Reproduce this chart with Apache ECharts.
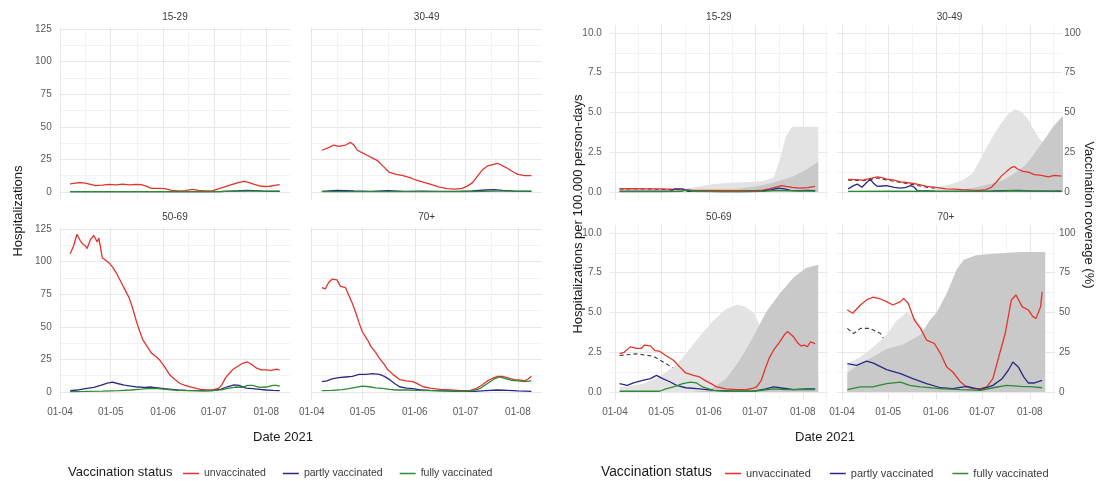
<!DOCTYPE html>
<html>
<head>
<meta charset="utf-8">
<script src="https://cdn.jsdelivr.net/npm/echarts@6/dist/echarts.min.js"></script>
<style>
  html, body { margin: 0; padding: 0; background: #ffffff; }
  #chart { width: 1099px; height: 481px; }
</style>
</head>
<body>
<div id="chart"></div>
<script>
// x values are days since 1 April 2021
const MONTH_TICKS = [0, 30, 61, 91, 122];
const MONTH_LABELS = ['01-04', '01-05', '01-06', '01-07', '01-08'];
const X_GRID = [0, 15, 30, 45.5, 61, 76, 91, 106.5, 122, 137.5];   // month starts and mid-months

const COUNT_LABELS = [0, 25, 50, 75, 100, 125];
const COUNT_GRID = [0, 12.5, 25, 37.5, 50, 62.5, 75, 87.5, 100, 112.5, 125];
const RATE_LABELS = [0, 2.5, 5, 7.5, 10];
const RATE_GRID = [0, 1.25, 2.5, 3.75, 5, 6.25, 7.5, 8.75, 10];
const COVERAGE_LABELS = [0, 25, 50, 75, 100];

const AGE_GROUPS = ['15-29', '30-49', '50-69', '70+'];
const STATUS = ['unvaccinated', 'partly vaccinated', 'fully vaccinated'];

// ---- Hospitalizations (counts) ----
const hosp1529Unvacc = [[6,6.2],[9,6.8],[12,7.2],[15,6.8],[18,5.8],[21,4.8],[25,5.2],[29,5.8],[33,5.5],[37,6],[41,5.5],[45,5.8],[48,5.6],[51,4.5],[54,2.8],[58,2.7],[62,2.5],[66,1.2],[70,0.8],[74,1],[78,2],[82,1.2],[86,0.8],[90,0.8],[94,2.5],[97,3.8],[100,5],[103,6.2],[106,7.4],[109,8.2],[112,7.2],[115,5.8],[118,4.6],[121,4.2],[124,4.4],[127,5],[130,5.6]];
const hosp1529Partly = [[6,0.3],[20,0.3],[40,0.3],[60,0.2],[80,0.2],[95,0.3],[100,0.6],[105,0.9],[110,1.2],[115,1],[120,0.6],[125,0.4],[130,0.4]];
const hosp1529Fully = [[6,0.2],[30,0.3],[60,0.3],[90,0.2],[100,0.4],[110,0.6],[120,0.6],[130,0.7]];

const hosp3049Unvacc = [[6,32],[10,34],[13,36],[16,35],[20,36],[23,38],[25,36],[27,32],[30,30],[33,28],[36,26],[39,24],[42,20],[46,15],[50,13.5],[54,12.5],[58,11],[62,9],[66,7.5],[70,6],[75,4],[80,2.5],[85,2.2],[89,2.8],[92,4.5],[95,7],[98,12],[101,17],[104,20],[107,21],[110,22],[113,20],[116,18],[119,15.5],[122,13.5],[126,12.5],[130,12.5]];
const hosp3049Partly = [[6,0.5],[15,1.2],[25,0.8],[35,0.5],[45,1.0],[55,0.5],[65,0.6],[75,0.5],[85,0.4],[95,0.8],[103,1.5],[108,1.8],[113,1.2],[120,0.7],[130,0.5]];
const hosp3049Fully = [[6,0.2],[30,0.3],[60,0.3],[90,0.3],[110,0.6],[130,0.6]];

const hosp5069Unvacc = [[6,106],[8,112],[10,121],[12,116],[13,114],[15,112],[16,110],[18,117],[20,120],[22,115],[23,118],[25,103],[27,101],[29,99],[31,96],[33,92],[35,87],[37,82],[39,77],[41,72],[43,64],[45,55],[47,47],[49,40],[52,34],[54,30],[56,28],[59,24.5],[62,19],[65,13],[68,9.5],[71,6.5],[74,5],[77,4],[80,3],[83,2],[87,1.5],[90,1.5],[94,3],[96,6],[98,11],[100,14],[102,17],[105,19.5],[108,22],[111,23],[113,21.5],[116,18.5],[119,17],[122,17],[125,16.5],[128,17.5],[130,17]];
const hosp5069Partly = [[6,1],[10,1.5],[15,2.5],[20,3.5],[24,5],[28,6.8],[31,7.5],[34,6.5],[38,5.2],[42,4.5],[46,3.8],[50,3.5],[54,3.8],[58,3.2],[62,2.5],[66,2],[70,1.5],[75,1.2],[80,1],[85,0.8],[90,1],[95,2],[99,4],[103,5.5],[106,5],[110,3],[114,2.5],[118,2],[122,1.5],[126,1.2],[130,1]];
const hosp5069Fully = [[6,0.3],[15,0.4],[25,0.6],[35,1],[42,1.5],[48,2.2],[53,2.8],[58,2.5],[64,1.8],[70,1.2],[76,1],[84,1],[90,1],[96,1.8],[100,3],[104,3.8],[108,3.5],[111,5],[114,5],[118,3.5],[122,3.8],[126,5],[128,5],[130,4.5]];

const hosp70Unvacc = [[6,80],[8,79],[10,84],[12,86.5],[15,86],[17,81],[20,80],[22,74],[24,68],[26,61],[28,53],[30,46],[33,40],[35,35],[38,30],[40,26],[43,21],[45,17],[48,13.5],[52,9.5],[56,8.5],[60,8],[63,6],[66,4],[70,3],[76,2],[82,1.5],[88,1],[94,1.2],[97,2.5],[101,5.5],[104,8.5],[107,10.5],[110,12],[113,12],[117,10.5],[120,9.5],[123,9.2],[126,8.5],[128,10],[130,12]];
const hosp70Partly = [[6,8],[9,8.5],[12,10],[16,11],[20,11.5],[24,12],[28,13.5],[32,13.5],[36,14],[40,13.5],[43,12],[46,9.5],[49,6.5],[52,4],[56,3],[60,2.5],[65,1.5],[70,1.2],[78,0.8],[88,0.5],[96,0.5],[103,1],[110,1.5],[116,1.2],[122,0.8],[130,0.5]];
const hosp70Fully = [[6,1],[12,1.2],[18,1.8],[22,2.5],[26,3.5],[30,4.5],[34,4],[38,3.2],[42,2.8],[46,2],[50,1.5],[56,1.5],[62,1.2],[70,1],[80,0.8],[90,0.5],[96,1],[100,3],[104,6.5],[108,10],[111,11.5],[114,10.5],[118,9],[122,8.5],[126,8],[130,8.5]];

// ---- Hospitalizations per 100.000 person-days, and vaccination coverage (%) ----
const rate1529Unvacc = [[3,0.2],[10,0.22],[20,0.2],[29,0.2],[36,0.18],[42,0.15],[50,0.12],[60,0.1],[70,0.1],[80,0.08],[90,0.08],[96,0.12],[100,0.2],[104,0.3],[108,0.4],[111,0.35],[115,0.3],[120,0.25],[125,0.28],[130,0.35]];
const rate1529Partly = [[3,0.05],[20,0.05],[36,0.05],[39,0.2],[44,0.2],[47,0.05],[60,0.04],[80,0.03],[95,0.05],[102,0.15],[106,0.25],[110,0.2],[114,0.1],[120,0.08],[125,0.1],[130,0.08]];
const rate1529Fully = [[3,0.03],[30,0.03],[44,0.05],[47,0.15],[50,0.05],[70,0.03],[95,0.04],[105,0.1],[115,0.08],[130,0.06]];
const rate1529Overall = [[3,0.2],[20,0.19],[40,0.15],[60,0.1],[80,0.07],[95,0.08],[105,0.2],[110,0.25],[120,0.18],[130,0.2]];
const cov1529Partly = [[3,0],[30,0],[36,0.5],[45,2],[55,3.5],[64,5],[77,6],[90,6.5],[96,7],[103,9],[107,20],[111,35],[115,41],[132,41]];
const cov1529Fully = [[3,0],[50,0],[68,1],[80,2],[94,4],[103,6],[110,8],[116,10],[124,14],[132,19]];

const rate3049Unvacc = [[4,0.8],[9,0.78],[14,0.75],[18,0.85],[23,0.96],[26,0.9],[29,0.81],[34,0.75],[38,0.64],[42,0.6],[47,0.53],[51,0.45],[55,0.36],[61,0.3],[67.5,0.2],[73,0.18],[78,0.15],[84,0.12],[89,0.1],[93.5,0.15],[97,0.3],[100,0.6],[103.5,1.0],[107,1.3],[110,1.55],[112,1.6],[114,1.45],[117.5,1.3],[121,1.25],[125,1.1],[129.5,1.05],[134,0.95],[138,1.05],[142.6,1.0]];
const rate3049Partly = [[4,0.2],[7.5,0.4],[10,0.5],[13,0.3],[16,0.6],[18.5,0.8],[20.5,0.55],[23,0.35],[26,0.38],[29,0.4],[34,0.3],[38,0.25],[41.5,0.3],[44.5,0.4],[47,0.3],[49,0.08],[60,0.05],[76,0.04],[92.5,0.04],[103.5,0.08],[114.5,0.1],[125,0.06],[142.6,0.05]];
const rate3049Fully = [[4,0.04],[33,0.05],[65,0.04],[98,0.04],[109,0.08],[125,0.06],[142.6,0.06]];
const rate3049Overall = [[4,0.75],[14,0.72],[23,0.88],[29,0.76],[38,0.6],[47,0.45],[55,0.3],[67.5,0.17],[78,0.12],[89,0.08],[96,0.15],[100,0.3],[104.5,0.45],[109,0.55],[113,0.55],[120,0.5],[128.5,0.48],[135,0.45],[142.6,0.42]];
const cov3049Partly = [[4,0],[54.5,0],[57.5,1],[62,3],[71,5],[78.5,7.5],[85,12],[89.5,20],[93.5,27],[98,35],[102.5,42],[107,48],[112,52],[115.5,51],[120,47],[124,40],[128.5,33],[135,27],[143.6,24]];
const cov3049Fully = [[4,0],[65,0],[76,1],[87,3],[96,5],[103.5,7],[109,10],[115.5,14],[120,18],[124,23],[128.5,29],[133,35],[137,41],[143.6,48]];

const rate5069Unvacc = [[3,2.42],[6,2.5],[10,2.84],[14,2.74],[17,2.74],[19,2.95],[23,2.9],[26,2.6],[29,2.57],[33,2.3],[38,2.0],[42,1.58],[46,1.2],[51,1.05],[55,0.95],[59,0.7],[63,0.5],[66,0.32],[72,0.2],[79,0.15],[85,0.15],[90,0.25],[92,0.32],[95,0.74],[98,1.58],[100,2.1],[103,2.63],[107,3.16],[110,3.6],[112,3.8],[116,3.47],[119,3.05],[121,2.9],[123,2.95],[125,2.85],[127,3.16],[130,3.05]];
const rate5069Partly = [[3,0.53],[8,0.42],[12,0.57],[18,0.74],[23,0.84],[27,1.05],[31,0.84],[36,0.63],[40,0.42],[46,0.27],[55,0.2],[64,0.1],[77,0.06],[90,0.06],[98,0.2],[103,0.32],[107,0.27],[116,0.15],[124,0.2],[130,0.19]];
const rate5069Fully = [[3,0.05],[29,0.05],[33,0.2],[38,0.32],[44,0.53],[49,0.63],[53,0.57],[57,0.32],[64,0.1],[72,0.05],[90,0.05],[103,0.2],[111,0.15],[124,0.17],[130,0.15]];
const rate5069Overall = [[3,2.3],[14,2.4],[25,2.25],[33,1.8],[42,1.26],[51,0.74],[59,0.32],[68,0.17],[83,0.1],[94,0.15],[103,0.53],[111,0.57],[120,0.48],[130,0.46]];
const cov5069Partly = [[3,3],[18,5],[29,10],[40,17],[46,24],[55,35],[64,45],[72,52],[79,55],[84,54],[90,50],[94,42],[98,35],[107,25],[116,16],[132,10]];
const cov5069Fully = [[3,0],[50,0],[60,1],[64,3],[72,8],[81,20],[90,35],[98,50],[107,62],[116,72],[124,78],[132,80]];

const rate70Unvacc = [[3.5,5.16],[7,4.95],[12,5.47],[16,5.79],[20,5.96],[25,5.85],[29,5.68],[33,5.47],[38,5.68],[40,5.89],[43,5.58],[47,4.53],[51,4.0],[55,3.26],[60,3.05],[64,2.42],[68,1.58],[72,1.26],[77,0.63],[81,0.32],[85,0.21],[90,0.21],[94,0.32],[98,0.84],[103,2.63],[106,3.68],[110,5.79],[113,6.1],[117,5.37],[121,5.16],[124,4.74],[126,4.63],[129,5.37],[130,6.3]];
const rate70Partly = [[3.5,1.79],[9.5,1.68],[16,1.94],[20,1.83],[29,1.41],[38,1.16],[46,0.84],[55,0.53],[64,0.27],[72,0.21],[81,0.36],[90,0.15],[98,0.42],[104,0.84],[108,1.37],[111,1.89],[114.5,1.58],[118,0.95],[121,0.57],[125,0.57],[130,0.74]];
const rate70Fully = [[3.5,0.15],[12,0.32],[20,0.32],[29,0.53],[38,0.63],[44,0.42],[51,0.32],[64,0.21],[77,0.15],[90,0.1],[98,0.27],[107,0.42],[116,0.36],[124,0.32],[130,0.27]];
const rate70Overall = [[3.5,4.0],[7.5,3.68],[12,4.0],[18,4.0],[25,3.68],[29,3.05],[38,2.21],[46,1.58],[55,0.84],[64,0.42],[72,0.21],[81,0.15],[90,0.15],[98,0.42],[107,0.74],[116,0.74],[124,0.53],[130,0.57]];
const cov70Partly = [[3.5,18],[12,22],[20,28],[29,36],[35.5,45],[42,50],[46,48],[51,42],[57,35],[62,28],[70,18],[80,9],[90,5],[110,3],[132,2]];
const cov70Fully = [[3.5,12],[12,18],[20,22],[29,27],[40,30],[51,36],[57,45],[61.5,50],[68,62],[74.5,77],[79,83],[87,86],[98,87],[116,88],[132,88]];

const COLORS = {
  unvacc: '#e3332c', partly: '#2a2a86', fully: '#2c8a33', overall: '#3c3c3c',
  partlyCov: '#e3e3e3', fullyCov: '#c9c9c9'
};
const FONT = '"Liberation Sans", Arial, Helvetica, sans-serif';
const GRID_MAJOR = '#e7e7e7', GRID_MINOR = '#f3f3f3';
const PX_PER_DAY_R = 1.54;

// Panel geometry for the counts figure (L) and the rates figure (R)
const FIGS = {
  L: { lefts: [59.7, 311.4], tops: [27.7, 227.7], height: 172.1,
       yMin: -6, yMax: 126,
       x: [[-0.2, 136.2, 230.5], [-0.2, 136.2, 230.5]] },
  R: { lefts: [609.8, 836.8], tops: [25, 225], height: 175,
       yMin: -0.5, yMax: 10.5 }
};

const panels = [
  { fig: 'L', col: 0, row: 0, lines: [hosp1529Unvacc, hosp1529Partly, hosp1529Fully] },
  { fig: 'L', col: 1, row: 0, lines: [hosp3049Unvacc, hosp3049Partly, hosp3049Fully] },
  { fig: 'L', col: 0, row: 1, lines: [hosp5069Unvacc, hosp5069Partly, hosp5069Fully] },
  { fig: 'L', col: 1, row: 1, lines: [hosp70Unvacc, hosp70Partly, hosp70Fully] },
  { fig: 'R', col: 0, row: 0, xMax: 138.3, covMargin: 4, lines: [rate1529Unvacc, rate1529Partly, rate1529Fully], overall: rate1529Overall, cov: [cov1529Partly, cov1529Fully] },
  { fig: 'R', col: 1, row: 0, xMax: 143, covMargin: 2, lines: [rate3049Unvacc, rate3049Partly, rate3049Fully], overall: rate3049Overall, cov: [cov3049Partly, cov3049Fully] },
  { fig: 'R', col: 0, row: 1, xMax: 138.3, covMargin: 4, lines: [rate5069Unvacc, rate5069Partly, rate5069Fully], overall: rate5069Overall, cov: [cov5069Partly, cov5069Fully] },
  { fig: 'R', col: 1, row: 1, xMax: 138.3, covMargin: 4, lines: [rate70Unvacc, rate70Partly, rate70Fully], overall: rate70Overall, cov: [cov70Partly, cov70Fully] }
];
const panelAge = [0, 1, 2, 3, 0, 1, 2, 3];

const grids = [], xAxes = [], yAxes = [], series = [], graphics = [];
const secondaryIndex = {};

panels.forEach((p, i) => {
  const f = FIGS[p.fig];
  const left = f.lefts[p.col], top = f.tops[p.row];
  let xMin, xMax, width;
  if (p.fig === 'L') {
    [xMin, xMax, width] = f.x[p.col];
  } else {
    xMin = -3.35; xMax = p.xMax; width = (xMax - xMin) * PX_PER_DAY_R;
  }
  grids.push({ left, top, width, height: f.height, containLabel: false, outerBoundsMode: 'none' });

  xAxes.push({
    type: 'value', gridIndex: i, min: xMin, max: xMax,
    axisLine: { show: false },
    axisTick: { show: false, customValues: X_GRID },
    splitLine: { show: true, lineStyle: { color: [GRID_MAJOR, GRID_MINOR], width: 1 } },
    axisLabel: {
      show: p.row === 1, customValues: MONTH_TICKS, margin: 7,
      color: '#5a5a5a', fontSize: 10, fontFamily: FONT,
      formatter: v => MONTH_LABELS[MONTH_TICKS.indexOf(v)]
    }
  });

  const isRate = p.fig === 'R';
  yAxes.push({
    type: 'value', gridIndex: i, min: f.yMin, max: f.yMax,
    axisLine: { show: false },
    axisTick: { show: false, customValues: isRate ? RATE_GRID : COUNT_GRID },
    splitLine: { show: true, lineStyle: { color: [GRID_MAJOR, GRID_MINOR], width: 1 } },
    axisLabel: {
      show: p.col === 0, customValues: isRate ? RATE_LABELS : COUNT_LABELS, margin: 8,
      color: '#5a5a5a', fontSize: 10, fontFamily: FONT,
      formatter: v => isRate ? v.toFixed(1) : String(v)
    }
  });

  // facet strip label
  graphics.push({
    type: 'text', x: left + width / 2, y: top - (p.fig === 'L' ? 10 : 8),
    style: { text: AGE_GROUPS[panelAge[i]], font: '10px ' + FONT, fill: '#3a3a3a',
             textAlign: 'center', align: 'center', textVerticalAlign: 'middle', verticalAlign: 'middle' }
  });
});

// secondary (coverage %) axes on the rate panels
panels.forEach((p, i) => {
  if (p.fig !== 'R') return;
  secondaryIndex[i] = yAxes.length;
  yAxes.push({
    type: 'value', gridIndex: i, min: -5, max: 105, position: 'right',
    axisLine: { show: false }, axisTick: { show: false }, splitLine: { show: false },
    axisLabel: {
      show: p.col === 1, customValues: COVERAGE_LABELS, margin: p.covMargin,
      color: '#5a5a5a', fontSize: 10, fontFamily: FONT
    }
  });
});

const lineColors = [COLORS.unvacc, COLORS.partly, COLORS.fully];

panels.forEach((p, i) => {
  if (p.cov) {
    [[p.cov[0], COLORS.partlyCov, 'partly vaccinated coverage'],
     [p.cov[1], COLORS.fullyCov, 'fully vaccinated coverage']].forEach(([data, c, name]) => {
      series.push({
        type: 'line', name, data, xAxisIndex: i, yAxisIndex: secondaryIndex[i],
        symbol: 'none', silent: true, lineStyle: { width: 0, color: c },
        itemStyle: { color: c }, areaStyle: { color: c, opacity: 1 }
      });
    });
  }
  p.lines.forEach((data, k) => {
    series.push({
      type: 'line', name: STATUS[k], data, xAxisIndex: i, yAxisIndex: i,
      symbol: 'none', lineStyle: { width: 1.3, color: lineColors[k] },
      itemStyle: { color: lineColors[k] }, z: 3
    });
  });
  if (p.overall) {
    series.push({
      type: 'line', name: 'overall', data: p.overall, xAxisIndex: i, yAxisIndex: i,
      symbol: 'none', lineStyle: { width: 1.1, color: COLORS.overall, type: [4, 3] },
      itemStyle: { color: COLORS.overall }, z: 2
    });
  }
});

function axisText(text, x, y, rotation, size) {
  return {
    type: 'text', x, y, rotation,
    style: { text, font: (size || 13) + 'px ' + FONT, fill: '#1a1a1a',
             textAlign: 'center', align: 'center', textVerticalAlign: 'middle', verticalAlign: 'middle' }
  };
}
function legendTitle(x, size) {
  return { type: 'text', x, y: 472,
    style: { text: 'Vaccination status', font: size + 'px ' + FONT, fill: '#1a1a1a',
             textAlign: 'left', align: 'left', textVerticalAlign: 'middle', verticalAlign: 'middle' } };
}
graphics.push(axisText('Hospitalizations', 18, 211, Math.PI / 2));
graphics.push(axisText('Hospitalizations per 100.000 person-days', 578, 214, Math.PI / 2));
graphics.push(axisText('Vaccination coverage (%)', 1089, 215, -Math.PI / 2));
graphics.push(axisText('Date 2021', 283, 437, 0));
graphics.push(axisText('Date 2021', 825, 437, 0));
graphics.push(legendTitle(68, 13));
graphics.push(legendTitle(601, 13.8));

const legendBase = {
  data: STATUS, icon: 'rect', itemWidth: 16, itemHeight: 1.5,
  top: 463, selectedMode: false,
  textStyle: { fontSize: 10.5, color: '#3a3a3a', fontFamily: FONT }
};

const chart = echarts.init(document.getElementById('chart'), null, { renderer: 'canvas' });
chart.setOption({
  animation: false,
  backgroundColor: '#ffffff',
  grid: grids,
  xAxis: xAxes,
  yAxis: yAxes,
  series,
  legend: [
    Object.assign({}, legendBase, { left: 178, itemGap: 17 }),
    Object.assign({}, legendBase, { left: 720, itemGap: 19, textStyle: { fontSize: 11, color: '#3a3a3a', fontFamily: FONT } })
  ],
  graphic: graphics
});
</script>
</body>
</html>
